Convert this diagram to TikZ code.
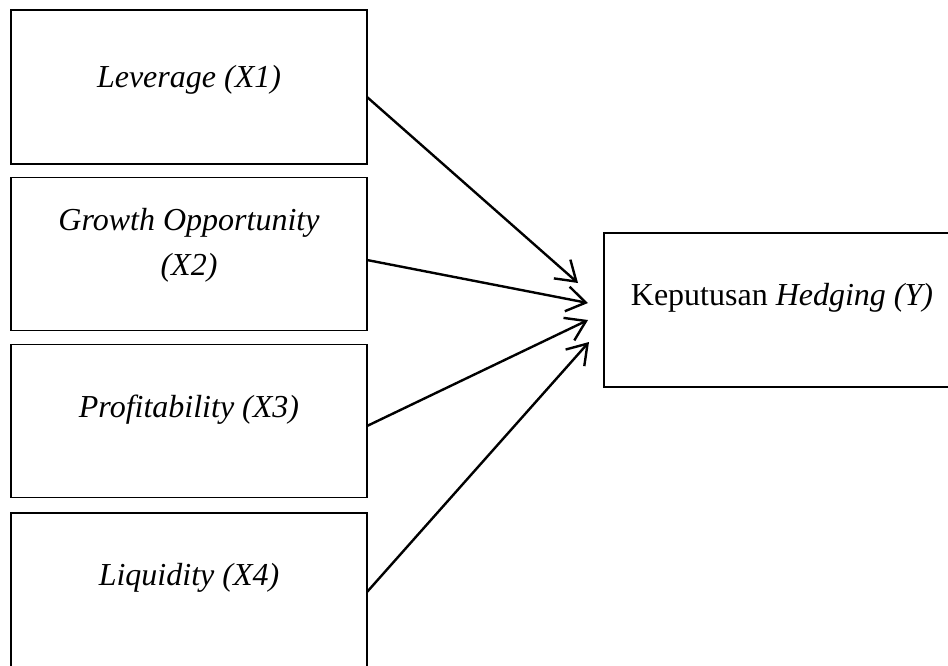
\documentclass[tikz,border=0pt]{standalone}
\usepackage{fontspec}
\setmainfont{Liberation Serif}
\usetikzlibrary{arrows.meta}
\begin{document}
\begin{tikzpicture}[x=1pt,y=-1pt,
  box/.style={draw=black, line width=1.8pt, minimum width=356pt, inner sep=0pt, outer sep=0pt},
  lbl/.style={font=\fontsize{32}{45}\selectfont\itshape, align=center, inner sep=0pt},
  arr/.style={draw=black, line width=2.4pt, -{Straight Barb[length=19pt,width=25pt]}}]
\useasboundingbox (0,0) rectangle (948,665);
\clip (0,0) rectangle (948,665);
\fill[white] (0,0) rectangle (948,665);
% boxes
\node[box, minimum height=154pt] (b1) at (189,87) {};
\node[box, minimum height=153pt] (b2) at (189,254) {};
\node[box, minimum height=153pt] (b3) at (189,421) {};
\node[box, minimum height=200pt] (b4) at (189,613) {};
\node[box, minimum height=154pt] (y) at (782,310) {};
% texts
\node[lbl] (t1) at (189,80) {Leverage (X1)};
\node[lbl] (t2) at (189,245) {Growth Opportunity\\(X2)};
\node[lbl] (t3) at (189,410) {Profitability (X3)};
\node[lbl] (t4) at (189,578) {Liquidity (X4)};
\node[lbl, font=\fontsize{32}{45}\selectfont] (ty) at (782,298) {Keputusan \textit{Hedging (Y)}};
% arrow end points
\coordinate (s1) at (b1.east |- 0,97);
\coordinate (s2) at (b2.east |- 0,260);
\coordinate (s3) at (b3.east |- 0,426);
\coordinate (s4) at (b4.east |- 0,592);
\coordinate (e1) at (578,283);
\coordinate (e2) at (588,303);
\coordinate (e3) at (588,320);
\coordinate (e4) at (589,342);
\draw[arr] (s1) -- (e1);
\draw[arr] (s2) -- (e2);
\draw[arr] (s3) -- (e3);
\draw[arr] (s4) -- (e4);
\end{tikzpicture}
\end{document}
